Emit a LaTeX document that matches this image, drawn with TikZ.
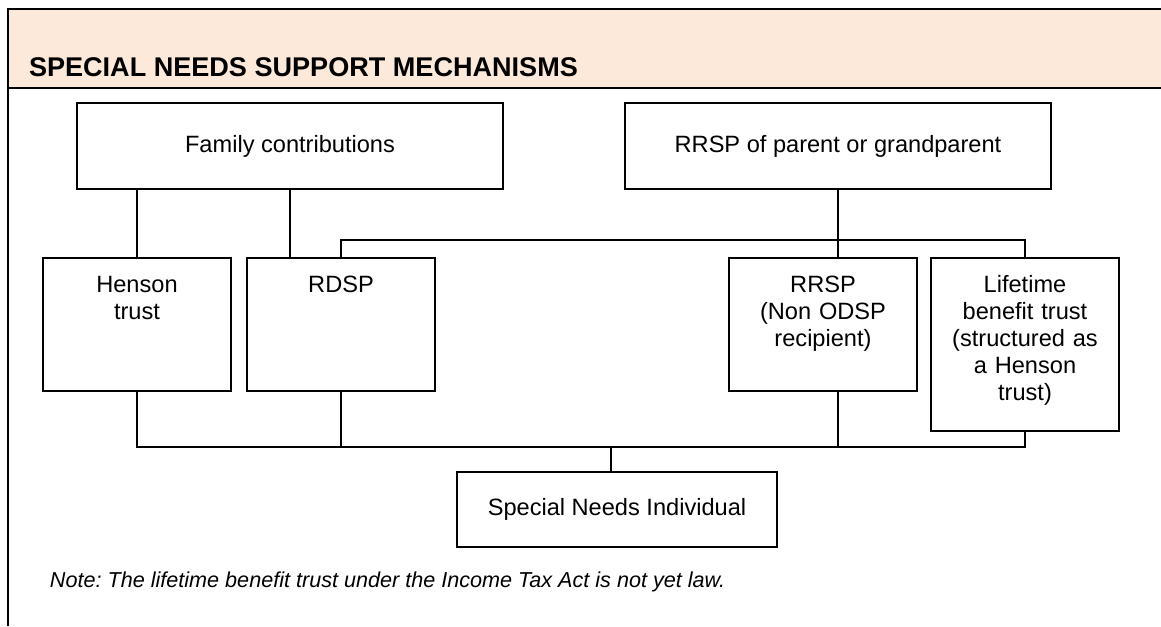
\documentclass[tikz,border=0pt]{standalone}
\usepackage{fontspec}
\setmainfont{Liberation Sans}
\usetikzlibrary{positioning}
\definecolor{headpeach}{HTML}{FDE9D9}
\frenchspacing

\begin{document}
\begin{tikzpicture}[
  x=0.75pt, y=-0.75pt,
  line width=1.4pt,
  every node/.style={font=\fontsize{17.7}{20.25}\selectfont, inner sep=0pt, outer sep=0pt},
  topbox/.style={draw, minimum width=319.5pt, minimum height=64.5pt},
  midbox/.style={draw, text width=141pt, align=center, text height=25.5pt, text depth=74.25pt},
  tallbox/.style={midbox, text depth=104.25pt},
  endbox/.style={draw, minimum width=240pt, minimum height=56.25pt}
]
  \useasboundingbox (0,0) rectangle (1161,626);

  % Header band
  \fill[headpeach] (8,9) rectangle (1161,88);
  \draw (1161,9) -- (8,9) -- (8,626);
  \draw (8,88) -- (1161,88);
  \node[anchor=base west, font=\fontsize{20.3}{24}\selectfont\bfseries] (title) at (29,76) {SPECIAL NEEDS SUPPORT MECHANISMS};

  % Sources
  \node[topbox] (fam) at (290,146) {Family contributions};
  \node[topbox, right=91.5pt of fam] (rrspp) {RRSP of parent or grandparent};

  % Mechanisms
  \node[midbox, anchor=north] (henson) at (137,258) {Henson\\trust};
  \node[midbox, right=12pt of henson] (rdsp) {RDSP};
  \node[midbox, anchor=north] (rrsp) at (823,258) {RRSP\\(Non ODSP\\recipient)};
  \node[tallbox, anchor=north west] (life) at ([xshift=10.5pt]rrsp.north east) {Lifetime\\benefit trust\\(structured as\\a Henson\\trust)};

  % Individual
  \node[endbox] (sni) at (617,509.5) {Special Needs Individual};

  % Note
  \node[anchor=base west, font=\fontsize{16.2}{19}\selectfont\itshape] (note) at (50,587) {Note: The lifetime benefit trust under the Income Tax Act is not yet law.};

  % Upper links
  \draw (henson.north |- fam.south) -- (henson.north);
  \draw (fam.south) -- (fam.south |- rdsp.north);
  \draw (rrspp.south) -- (rrspp.south |- rrsp.north);
  \draw (rdsp.north) -- ++(0,-18) -| (life.north);

  % Lower links
  \coordinate (bus) at (611,447);
  \draw (henson.south) -- (henson.south |- bus) -- (life.south |- bus) -- (life.south);
  \draw (rdsp.south) -- (rdsp.south |- bus);
  \draw (rrspp.south |- rrsp.south) -- (rrspp.south |- bus);
  \draw (bus) -- (bus |- sni.north);
\end{tikzpicture}
\end{document}
